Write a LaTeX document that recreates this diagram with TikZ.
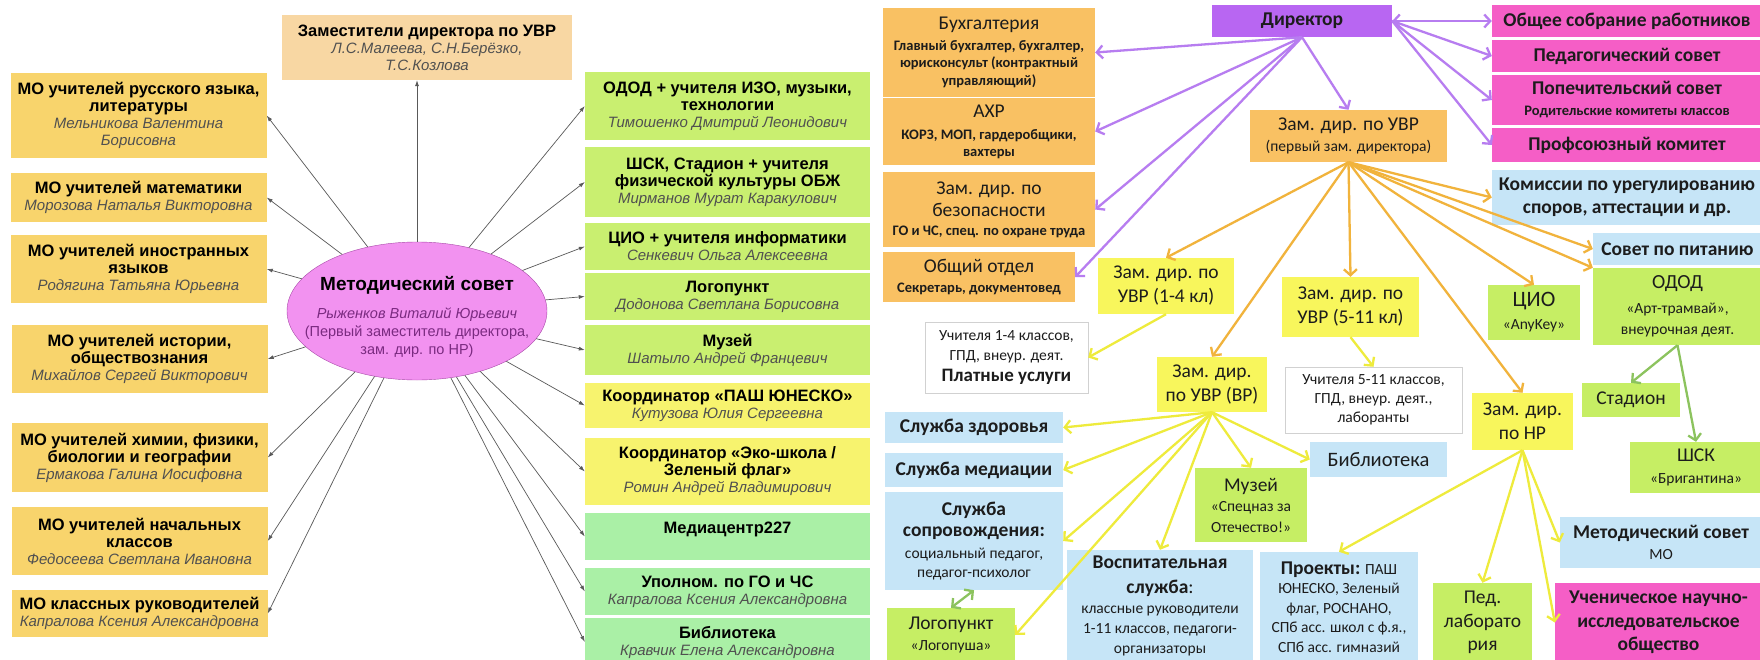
\documentclass[tikz,border=0pt]{standalone}
\usepackage{fontspec}
\setmainfont{Liberation Sans}
\newfontfamily\calib{Carlito}
\usepackage{tikz}
\usetikzlibrary{arrows.meta, shapes.geometric}

\definecolor{cPeach}{HTML}{F8D7A3}
\definecolor{cGold}{HTML}{F8D46C}
\definecolor{cLime}{HTML}{C9EF70}
\definecolor{cLemon}{HTML}{F7F36E}
\definecolor{cMint}{HTML}{AAF0A6}
\definecolor{cEll}{HTML}{F292F0}
\definecolor{cEllD}{HTML}{A848A8}
\definecolor{cEllT}{HTML}{7A2A80}
\definecolor{whoGray}{HTML}{505050}
\definecolor{cOrange}{HTML}{F9C163}
\definecolor{cYellow}{HTML}{F8F65C}
\definecolor{cViolet}{HTML}{B866F2}
\definecolor{cPink}{HTML}{F55EC6}
\definecolor{cSky}{HTML}{C6E5F7}
\definecolor{cGreen}{HTML}{C6EE64}
\definecolor{aViolet}{HTML}{B77DF0}
\definecolor{aOrange}{HTML}{F1B33C}
\definecolor{aYellow}{HTML}{EEEB3C}
\definecolor{aGreen}{HTML}{8CC35E}
\definecolor{ink}{HTML}{1C1C1C}

\newcommand{\fs}[2]{\fontsize{#1}{#2}\selectfont}
\newcommand{\who}[1]{{\mdseries\itshape\color{whoGray}\fs{15}{17}#1}}
\newcommand{\sm}[1]{{\fs{14.5}{16}\bfseries #1}}
\newcommand{\sr}[1]{{\fs{15.5}{18}#1}}

\tikzset{
  lb/.style={inner sep=0pt, align=center, font=\fs{16.5}{17}\bfseries},
  mo/.style={lb, fill=cGold, minimum width=256},
  rc/.style={lb, minimum width=285},
  la/.style={draw=black!65, line width=0.7pt, -{Latex[length=6pt,width=4pt]}},
  rb/.style={inner sep=0pt, align=center, text=ink, font=\calib\fs{19.5}{24}},
  orb/.style={rb, fill=cOrange},
  yb/.style={rb, fill=cYellow},
  pb/.style={rb, fill=cPink, font=\calib\fs{19.5}{21}\bfseries},
  sb/.style={rb, fill=cSky},
  gb/.style={rb, fill=cGreen},
  ra/.style={line width=2.3pt, ->},
}

\begin{document}
\begin{tikzpicture}[x=1pt, y=-1pt, >={Straight Barb[length=6pt,width=13pt]}]
  \fill[white] (0,0) rectangle (1760,660);
  \useasboundingbox (0,0) rectangle (1760,660);

  \node[lb, fill=cPeach, minimum width=290, minimum height=65] (zam) at (427,47.5)
    {Заместители директора по УВР\\\who{Л.С.Малеева, С.Н.Берёзко,}\\\who{Т.С.Козлова}};

  \node[mo, minimum height=85] (rus) at (138.5,115.5)
    {МО учителей русского языка,\\литературы\\\who{Мельникова Валентина}\\\who{Борисовна}};
  \node[mo, minimum height=49] (mat) at (138.5,197.5)
    {МО учителей математики\\\who{Морозова Наталья Викторовна}};
  \node[mo, minimum height=68] (inyaz) at (138.5,269)
    {МО учителей иностранных\\языков\\\who{Родягина Татьяна Юрьевна}};
  \node[mo, minimum height=68] (ist) at (139.5,359)
    {МО учителей истории,\\обществознания\\\who{Михайлов Сергей Викторович}};
  \node[mo, minimum height=69] (him) at (139.5,457.5)
    {МО учителей химии, физики,\\биологии и географии\\\who{Ермакова Галина Иосифовна}};
  \node[mo, minimum height=68] (nach) at (139.5,541)
    {МО учителей начальных\\классов\\\who{Федосеева Светлана Ивановна}};
  \node[mo, minimum height=47] (klass) at (139.5,613.5)
    {МО классных руководителей\\\who{Капралова Ксения Александровна}};

  \node[draw=cEllD, fill=cEll, ellipse, minimum width=260, minimum height=138, inner sep=0pt] (ms) at (417,311) {};
  \node[align=center, inner sep=0pt, font=\fs{19}{18}\bfseries] (mstext) at (417,317)
    {Методический совет\\[10pt]{\mdseries\itshape\color{cEllT}\fs{14.5}{17}Рыженков Виталий Юрьевич}\\
     {\mdseries\color{cEllT}\fs{14.5}{17}(Первый заместитель директора,}\\
     {\mdseries\color{cEllT}\fs{14.5}{17}зам. дир. по НР)}};

  \node[rc, fill=cLime, minimum height=68] (odod1) at (727.5,106)
    {ОДОД + учителя ИЗО, музыки,\\технологии\\\who{Тимошенко Дмитрий Леонидович}};
  \node[rc, fill=cLime, minimum height=70] (shsk1) at (727.5,182)
    {ШСК, Стадион + учителя\\физической культуры ОБЖ\\\who{Мирманов Мурат Каракулович}};
  \node[rc, fill=cLime, minimum height=47] (cio1) at (727.5,246.5)
    {ЦИО + учителя информатики\\\who{Сенкевич Ольга Алексеевна}};
  \node[rc, fill=cLime, minimum height=47] (logo1) at (727.5,296.5)
    {Логопункт\\\who{Додонова Светлана Борисовна}};
  \node[rc, fill=cLime, minimum height=50] (muz1) at (727.5,350)
    {Музей\\\who{Шатыло Андрей Францевич}};
  \node[rc, fill=cLemon, minimum height=45] (pash) at (727.5,405.5)
    {Координатор «ПАШ ЮНЕСКО»\\\who{Кутузова Юлия Сергеевна}};
  \node[rc, fill=cLemon, minimum height=67] (eko) at (727.5,471.5)
    {Координатор «Эко-школа /\\Зеленый флаг»\\\who{Ромин Андрей Владимирович}};
  \node[rc, fill=cMint, minimum height=47] (media) at (727.5,536.5)
    {Медиацентр227\\\mbox{}};
  \node[rc, fill=cMint, minimum height=47] (upol) at (727.5,591.5)
    {Уполном. по ГО и ЧС\\\who{Капралова Ксения Александровна}};
  \node[rc, fill=cMint, minimum height=48] (bibl1) at (727.5,642)
    {Библиотека\\\who{Кравчик Елена Александровна}};

  \draw[la] (ms.north) -- (ms.north |- zam.south);
  \foreach \b in {rus, mat, inyaz, ist, him, nach, klass}
    \draw[la] (ms) -- (\b.east);
  \foreach \b in {odod1, shsk1, cio1, logo1, muz1, pash, eko, media, upol, bibl1}
    \draw[la] (ms) -- (\b.west);

  \node[orb, minimum width=212, minimum height=89, font=\calib\fs{19.5}{17.5}] (buh) at (989,52.5)
    {Бухгалтерия\\[3pt]\sm{Главный бухгалтер, бухгалтер,}\\\sm{юрисконсульт (контрактный}\\\sm{управляющий)}};
  \node[orb, minimum width=212, minimum height=67, font=\calib\fs{19.5}{17}] (ahr) at (989,131.5)
    {АХР\\[5pt]\sm{КОРЗ, МОП, гардеробщики,}\\\sm{вахтеры}};
  \node[orb, minimum width=212, minimum height=75, font=\calib\fs{19.5}{22}] (bez) at (989,209.5)
    {Зам. дир. по\\безопасности\\[-3pt]\sm{ГО и ЧС, спец. по охране труда}};
  \node[orb, minimum width=192, minimum height=50, font=\calib\fs{19.5}{20}] (obsh) at (979,277)
    {Общий отдел\\\sm{Секретарь, документовед}};

  \node[rb, fill=cViolet, minimum width=180, minimum height=32, font=\calib\fs{19.5}{21}\bfseries] (dir) at (1302,21) {Директор};
  \node[orb, minimum width=197, minimum height=52, font=\calib\fs{19.5}{21}] (zuvr) at (1348.5,136)
    {Зам. дир. по УВР\\\sr{(первый зам. директора)}};

  \node[yb, minimum width=136, minimum height=56] (z14) at (1166,286) {Зам. дир. по\\УВР (1-4 кл)};
  \node[yb, minimum width=137, minimum height=60] (z511) at (1350.5,307) {Зам. дир. по\\УВР (5-11 кл)};
  \node[rb, fill=white, draw=black!18, minimum width=163, minimum height=71, font=\calib\fs{19}{20.5}] (uch14) at (1006.5,357.5)
    {\sr{Учителя 1-4 классов,}\\\sr{ГПД, внеур. деят.}\\\textbf{Платные услуги}};
  \node[yb, minimum width=110, minimum height=55] (zvr) at (1212,384.5) {Зам. дир.\\по УВР (ВР)};
  \node[rb, fill=white, draw=black!18, minimum width=177, minimum height=66, font=\calib\fs{15.5}{19}] (uch511) at (1373.5,400)
    {Учителя 5-11 классов,\\ГПД, внеур. деят.,\\лаборанты};
  \node[yb, minimum width=101, minimum height=57] (znr) at (1522.5,421.5) {Зам. дир.\\по НР};

  \node[sb, minimum width=178, minimum height=31, font=\calib\fs{19.5}{21}\bfseries] (szd) at (974,427.5) {Служба здоровья};
  \node[sb, minimum width=178, minimum height=34, font=\calib\fs{19.5}{21}\bfseries] (smed) at (974,470) {Служба медиации};
  \node[sb, minimum width=178, minimum height=98, font=\calib\fs{19.5}{21.5}\bfseries] (ssop) at (974,541)
    {Служба\\сопровождения:\\\sr{\mdseries социальный педагог,}\\[-2pt]\sr{\mdseries педагог-психолог}};
  \node[gb, minimum width=128, minimum height=54, font=\calib\fs{19.5}{21}] (logo) at (951,635)
    {Логопункт\\\sr{«Логопуша»}};
  \node[gb, minimum width=112, minimum height=74, font=\calib\fs{19.5}{20.5}] (muz) at (1251,505)
    {Музей\\\sr{«Спецназ за}\\\sr{Отечество!»}};
  \node[sb, minimum width=137, minimum height=35, font=\calib\fs{20.5}{22}] (bib) at (1378.5,459.5) {Библиотека};
  \node[sb, minimum width=186, minimum height=112, font=\calib\fs{19.5}{20}] (vosp) at (1160,606)
    {\textbf{Воспитательная}\\[5pt]\textbf{служба}:\\\sr{классные руководители}\\\sr{1-11 классов, педагоги-}\\\sr{организаторы}};
  \node[sb, minimum width=158, minimum height=110, font=\calib\fs{15.5}{19.5}] (proj) at (1339,607)
    {{\fs{19.5}{20}\bfseries Проекты:} ПАШ\\ЮНЕСКО, Зеленый\\флаг, РОСНАНО,\\СПб асс. школ с ф.я.,\\СПб асс. гимназий};

  \node[pb, minimum width=270, minimum height=32] (sobr) at (1627,21) {Общее собрание работников};
  \node[pb, minimum width=270, minimum height=32] (pedsov) at (1627,56) {Педагогический совет};
  \node[pb, minimum width=270, minimum height=50] (popech) at (1627,100)
    {Попечительский совет\\\sm{Родительские комитеты классов}};
  \node[pb, minimum width=270, minimum height=34] (prof) at (1627,145) {Профсоюзный комитет};
  \node[sb, minimum width=270, minimum height=55, font=\calib\fs{19.5}{23}\bfseries] (kom) at (1627,197.5)
    {Комиссии по урегулированию\\споров, аттестации и др.};
  \node[sb, minimum width=169, minimum height=32, font=\calib\fs{19.5}{21}\bfseries] (pit) at (1677.5,249) {Совет по питанию};
  \node[gb, minimum width=169, minimum height=77, font=\calib\fs{20}{21}] (odod) at (1677.5,306.5)
    {ОДОД\\[4pt]\sr{«Арт-трамвай»,}\\\sr{внеурочная деят.}};
  \node[gb, minimum width=92, minimum height=55, font=\calib\fs{22}{23}] (cio) at (1534,312.5)
    {ЦИО\\\sr{«AnyKey»}};
  \node[gb, minimum width=98, minimum height=34] (stad) at (1631,400) {Стадион};
  \node[gb, minimum width=132, minimum height=51, font=\calib\fs{19.5}{22}] (shsk) at (1696,467.5)
    {ШСК\\\sr{«Бригантина»}};
  \node[sb, minimum width=202, minimum height=51, font=\calib\fs{19.5}{21}\bfseries] (metod) at (1661,542.5)
    {Методический совет\\\sr{\mdseries МО}};
  \node[gb, minimum width=99, minimum height=79, font=\calib\fs{19.5}{23.5}] (ped) at (1482.5,622.5)
    {Пед.\\лаборато\\рия};
  \node[pb, minimum width=207, minimum height=79, font=\calib\fs{19.5}{23.5}\bfseries] (uno) at (1658.5,622.5)
    {Ученическое научно-\\исследовательское\\общество};

  \foreach \t in {buh.east, ahr.east, bez.east, obsh.east, zuvr.north}
    \draw[ra, aViolet] (dir.south) -- (\t);
  \draw[ra, aViolet, <->] (dir.east) -- (sobr.west);
  \foreach \t in {pedsov, popech, prof}
    \draw[ra, aViolet] (dir.east) -- (\t.west);

  \foreach \t in {z14.north, z511.north, zvr.north, znr.north, cio.north, kom.west, pit.west, odod.north west}
    \draw[ra, aOrange] (zuvr.south) -- (\t);

  \draw[ra, aYellow] (z14.south) -- (uch14.east);
  \draw[ra, aYellow] (z511.south) -- (uch511.north);
  \foreach \t in {szd.east, smed.east, ssop.east, logo.east, vosp.north, muz.north, bib.west}
    \draw[ra, aYellow] (zvr.south) -- (\t);
  \foreach \t in {proj.north, ped.north, uno.west, metod.west}
    \draw[ra, aYellow] (znr.south) -- (\t);

  \draw[ra, aGreen] (odod.south) -- (stad.north);
  \draw[ra, aGreen] (odod.south) -- (shsk.north);
  \draw[ra, aGreen, <->] (ssop.south) -- (logo.north);
\end{tikzpicture}
\end{document}
